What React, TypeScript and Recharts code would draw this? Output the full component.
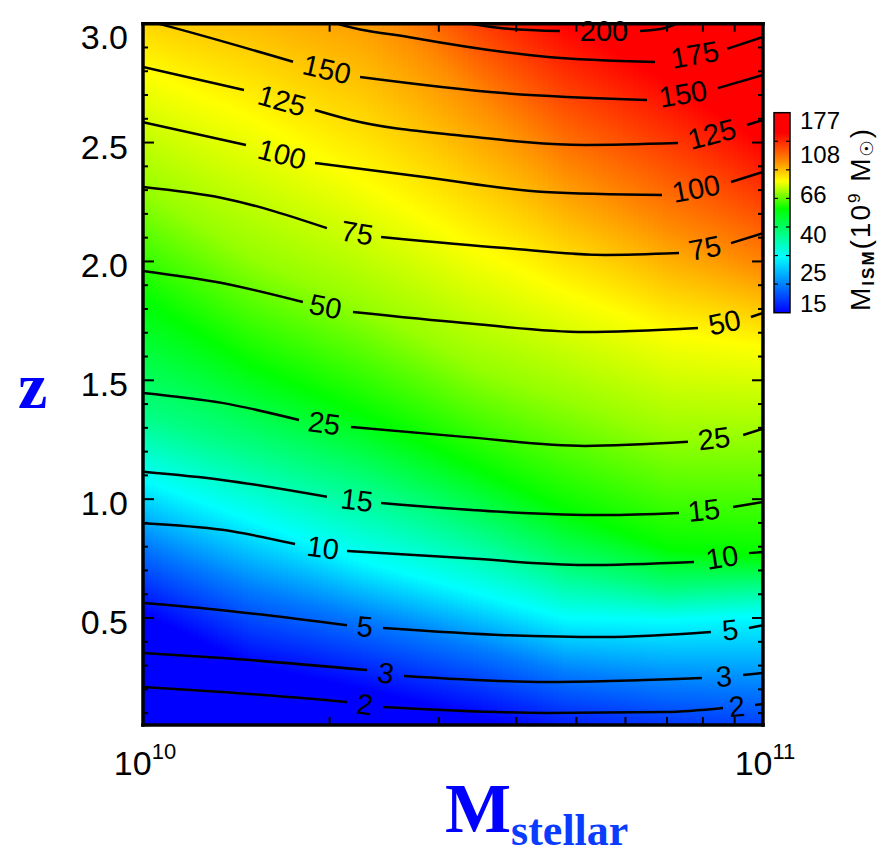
import React from "react";
import {
  ComposedChart,
  Line,
  XAxis,
  YAxis,
  ReferenceArea,
  ReferenceDot,
} from "recharts";

const W = 877;
const H = 854;
const PLOT_LEFT = 143;
const PLOT_RIGHT = 763;
const PLOT_TOP = 23.7;
const PLOT_BOTTOM = 725;
const PLOT_W = PLOT_RIGHT - PLOT_LEFT;
const PLOT_H = PLOT_BOTTOM - PLOT_TOP;
// axes get a 1px box so that Recharts draws them; margins compensate
const AXIS_BOX = 1;

const Z_MIN = 0.05;
const Z_MAX = 3.0;
const M_MIN = 1e10;
const M_MAX = 1e11;

const SANS = "'Liberation Sans', Arial, Helvetica, sans-serif";
const SERIF = "'Liberation Serif', 'Times New Roman', serif";
const TITLE_BLUE = "#0000ff";

// axis ticks
const massTicks = [1e10, 2e10, 3e10, 4e10, 5e10, 6e10, 7e10, 8e10, 9e10, 1e11];
const zTicks = Array.from({ length: 30 }, (_, i) => (i + 1) / 10);

// colour bar: M_ISM in 1e9 Msun
const cbLabels = [15, 25, 40, 66, 108, 177];
const CB_MIN = 15;
const CB_MAX = 177;
const cbMinor = [1, 2, 3, 4, 5, 6].map((k) => CB_MIN * Math.pow(CB_MAX / CB_MIN, k / 7));
const cbExtent = [{ c: 0 }, { c: 1 }];

// colour table (blue -> cyan -> green -> yellow -> orange -> red)
const cmapValues = [15, 30, 54, 76, 97, 138, 177];
const cmapColors = ["#0000ff", "#00ffff", "#00ff00", "#ffff00", "#ff8c00", "#ff0000", "#ff0000"];

// M_ISM field: redshift at which each level is reached, sampled at fieldMass
const fieldMass = [1.0e10, 1.5e10, 2.25e10, 3.4e10, 4.8e10, 7.0e10, 1.0e11];
const fieldLevels = [15, 21, 30, 40, 54, 66, 76, 97, 138];
const iso15 = [0.52, 0.3, 0.2, 0.09, -0.01, -0.08, -0.12];
const iso21 = [0.81, 0.62, 0.5, 0.38, 0.27, 0.22, 0.2];
const iso30 = [1.08, 0.91, 0.74, 0.61, 0.5, 0.49, 0.51];
const iso40 = [1.36, 1.21, 1.06, 0.87, 0.7, 0.62, 0.64];
const iso54 = [1.84, 1.56, 1.36, 1.14, 0.95, 0.79, 0.76];
const iso66 = [2.3, 2.02, 1.81, 1.56, 1.42, 1.26, 1.25];
const iso76 = [2.8, 2.6, 2.34, 2.06, 1.87, 1.7, 1.64];
const iso97 = [3.36, 3.28, 3.12, 2.7, 2.38, 2.14, 1.97];
const iso138 = [4.3, 4.0, 3.75, 3.28, 3.0, 2.76, 2.5];
const isoRows = [iso15, iso21, iso30, iso40, iso54, iso66, iso76, iso97, iso138];

// contour lines [M_stellar, z]; a null z leaves the gap for the inline label
type Pt = [number, number | null];
const contourLevels = [2, 3, 5, 10, 15, 25, 50, 75, 100, 125, 150, 175, 200];
const contour2: Pt[] = [[1.0e10, 0.21], [1.341e10, 0.189], [2.133e10, 0.147], [2.28e10, null], [2.438e10, 0.126], [4.45e10, 0.101], [6.976e10, 0.105], [8.62e10, 0.122], [9.08e10, null], [9.71e10, 0.134], [1e11, 0.138]];
const contour3: Pt[] = [[1.0e10, 0.353], [1.341e10, 0.332], [2.298e10, 0.281], [2.465e10, null], [2.636e10, 0.256], [4.45e10, 0.231], [7.971e10, 0.248], [8.65e10, null], [9.29e10, 0.26], [1e11, 0.269]];
const contour5: Pt[] = [[1.0e10, 0.563], [1.341e10, 0.533], [2.133e10, 0.47], [2.28e10, null], [2.438e10, 0.458], [3.836e10, 0.428], [5.561e10, 0.42], [8.241e10, 0.441], [8.85e10, null], [9.49e10, 0.458], [1e11, 0.47]];
const contour10: Pt[] = [[1.0e10, 0.899], [1.341e10, 0.871], [1.759e10, 0.811], [1.951e10, null], [2.133e10, 0.782], [3.295e10, 0.752], [5.163e10, 0.723], [7.738e10, 0.736], [8.59e10, null], [9.49e10, 0.773], [1e11, 0.778]];
const contour15: Pt[] = [[1.0e10, 1.115], [1.341e10, 1.081], [1.98e10, 1.01], [2.214e10, null], [2.421e10, 0.984], [3.836e10, 0.946], [5.561e10, 0.933], [7.322e10, 0.942], [8.03e10, null], [8.95e10, 0.967], [1e11, 0.988]];
const contour25: Pt[] = [[1.0e10, 1.447], [1.341e10, 1.405], [1.785e10, 1.333], [1.96e10, null], [2.165e10, 1.304], [3.295e10, 1.262], [5.163e10, 1.224], [7.568e10, 1.241], [8.34e10, null], [9.29e10, 1.27], [1e11, 1.296]];
const contour50: Pt[] = [[1.0e10, 1.96], [1.341e10, 1.909], [1.811e10, 1.829], [1.97e10, null], [2.181e10, 1.787], [3.295e10, 1.741], [5.163e10, 1.703], [7.855e10, 1.72], [8.67e10, null], [9.56e10, 1.766], [1e11, 1.783]];
const contour75: Pt[] = [[1.0e10, 2.313], [1.341e10, 2.267], [1.98e10, 2.14], [2.214e10, null], [2.421e10, 2.103], [3.836e10, 2.056], [5.561e10, 2.027], [7.322e10, 2.035], [8.06e10, null], [8.88e10, 2.077], [1e11, 2.119]];
const contour100: Pt[] = [[1.0e10, 2.586], [1.466e10, 2.49], [1.676e10, null], [1.894e10, 2.414], [2.84e10, 2.355], [4.45e10, 2.292], [6.873e10, 2.279], [7.8e10, null], [8.88e10, 2.334], [1e11, 2.376]];
const contour125: Pt[] = [[1.0e10, 2.818], [1.455e10, 2.721], [1.676e10, null], [1.894e10, 2.637], [2.165e10, 2.595], [3.295e10, 2.528], [5.163e10, 2.49], [7.295e10, 2.498], [8.27e10, null], [9.42e10, 2.574], [1e11, 2.595]];
const contour150: Pt[] = [[1.0e10, 3.017], [1.077e10, 2.995], [1.746e10, 2.84], [1.98e10, null], [2.239e10, 2.776], [3.807e10, 2.708], [6.5e10, 2.679], [7.43e10, null], [8.46e10, 2.729], [1e11, 2.784]];
const contour175: Pt[] = [[1.8e10, 3.06], [2.003e10, 3.01], [2.736e10, 2.94], [4.5e10, 2.86], [6.697e10, 2.839], [7.76e10, null], [8.75e10, 2.894], [1e11, 2.944]];
const contour200: Pt[] = [[2.8e10, 3.04], [3.766e10, 2.982], [4.706e10, 2.969], [5.54e10, null], [6.333e10, 2.969], [6.95e10, 2.982], [7.8e10, 3.04]];
const contourPaths = [contour2, contour3, contour5, contour10, contour15, contour25, contour50, contour75, contour100, contour125, contour150, contour175, contour200];

const contours = contourLevels.map((level, i) => ({
  level,
  points: contourPaths[i].map(([m, z]) => ({ m, z })),
}));

// inline labels sit in the gaps, rotated along the local line direction
const contourLabels = contours.flatMap(({ level, points }) =>
  points.flatMap((p, i) => {
    if (p.z !== null) return [];
    const a = points[i - 1];
    const b = points[i + 1];
    const la = Math.log10(a.m);
    const lb = Math.log10(b.m);
    const t = (Math.log10(p.m) - la) / (lb - la);
    const z = (a.z as number) + t * ((b.z as number) - (a.z as number));
    const dx = (lb - la) * PLOT_W;
    const dy = (-((b.z as number) - (a.z as number)) * PLOT_H) / (Z_MAX - Z_MIN);
    return [{ key: `${level}-${i}`, text: String(level), m: p.m, z, angle: (Math.atan2(dy, dx) * 180) / Math.PI }];
  })
);

const hexRgb = (h: string) => [1, 3, 5].map((k) => parseInt(h.slice(k, k + 2), 16));

function colorAt(v: number) {
  const lv = Math.log(v);
  for (let i = 0; i < cmapValues.length - 1; i++) {
    const a = Math.log(cmapValues[i]);
    const b = Math.log(cmapValues[i + 1]);
    if (lv <= b || i === cmapValues.length - 2) {
      const t = Math.min(1, Math.max(0, (lv - a) / (b - a)));
      const ca = hexRgb(cmapColors[i]);
      const cb = hexRgb(cmapColors[i + 1]);
      const c = ca.map((x, k) => Math.round(x + t * (cb[k] - x)));
      return `rgb(${c[0]},${c[1]},${c[2]})`;
    }
  }
  return cmapColors[cmapColors.length - 1];
}

const cbT = (v: number) => Math.log(v / CB_MIN) / Math.log(CB_MAX / CB_MIN);

const fieldLogM = fieldMass.map((m) => Math.log10(m));
function isoAt(row: number[], lm: number) {
  const n = fieldLogM.length;
  for (let i = 0; i < n - 1; i++) {
    if (lm <= fieldLogM[i + 1] || i === n - 2) {
      const t = (lm - fieldLogM[i]) / (fieldLogM[i + 1] - fieldLogM[i]);
      return row[i] + t * (row[i + 1] - row[i]);
    }
  }
  return row[n - 1];
}

// the colour field is painted as thin mass columns, each with its own vertical gradient
const N_COLS = 124;
const columns = Array.from({ length: N_COLS }, (_, i) => {
  const l1 = 10 + i / N_COLS;
  const l2 = 10 + (i + 1) / N_COLS;
  const lm = (l1 + l2) / 2;
  return {
    id: i,
    m1: Math.pow(10, l1),
    m2: Math.pow(10, l2),
    stops: fieldLevels.map((v, k) => ({ z: isoAt(isoRows[k], lm), color: colorAt(v) })),
  };
});

const G_LO = -1;
const G_HI = 5;

function FieldColumn(props: any) {
  const { x, y, width, height, col } = props;
  if (x == null || y == null) return null;
  const pxPerZ = height / (Z_MAX - Z_MIN);
  const yLo = y + (Z_MAX - G_LO) * pxPerZ;
  const yHi = y + (Z_MAX - G_HI) * pxPerZ;
  const gid = `field-col-${col.id}`;
  return (
    <g>
      <defs>
        <linearGradient id={gid} gradientUnits="userSpaceOnUse" x1={0} y1={yLo} x2={0} y2={yHi}>
          {col.stops.map((s: any, k: number) => (
            <stop key={k} offset={(s.z - G_LO) / (G_HI - G_LO)} stopColor={s.color} />
          ))}
        </linearGradient>
      </defs>
      <rect x={x} y={y} width={width + 0.8} height={height} fill={`url(#${gid})`} />
    </g>
  );
}

const isDecade = (v: number) => Math.abs(Math.log10(v) - Math.round(Math.log10(v))) < 1e-9;
const isHalf = (v: number) => Math.abs(v * 2 - Math.round(v * 2)) < 1e-6;

function MassTick({ x, y, payload, side }: any) {
  const v = payload.value;
  const major = isDecade(v);
  const len = major ? 11 : 8;
  const dir = side === "bottom" ? -1 : 1;
  return (
    <g>
      <line x1={x} y1={y} x2={x} y2={y + dir * len} stroke="#000" strokeWidth={2} />
      {side === "bottom" && major && (
        <text x={x + 2} y={y + 50} textAnchor="middle" fontSize={34} fontFamily={SANS} fill="#000">
          10
          <tspan dy={-16} fontSize={22}>
            {Math.round(Math.log10(v))}
          </tspan>
        </text>
      )}
    </g>
  );
}

function RedshiftTick({ x, y, payload, side }: any) {
  const v = payload.value;
  const major = isHalf(v);
  const len = major ? 11 : 5;
  const dir = side === "left" ? 1 : -1;
  const atTop = Math.abs(v - Z_MAX) < 1e-6;
  return (
    <g>
      <line x1={x} y1={y} x2={x + dir * len} y2={y} stroke="#000" strokeWidth={2} />
      {side === "left" && major && (
        <text x={x - 15} y={y + (atTop ? 25 : 16)} textAnchor="end" fontSize={34} fontFamily={SANS} fill="#000">
          {v.toFixed(1)}
        </text>
      )}
    </g>
  );
}

function ColorbarTick({ x, y, payload, side }: any) {
  const v = payload.value;
  const labelled = cbLabels.includes(v);
  if (!labelled) {
    const dir = side === "left" ? 1 : -1;
    return <line x1={x} y1={y} x2={x + dir * 4} y2={y} stroke="#000" strokeWidth={1.2} />;
  }
  if (side !== "right") return <g />;
  let dy = 10;
  if (v === CB_MAX) dy = 16;
  if (v === CB_MIN) dy = -1;
  return (
    <text x={x + 10} y={y + dy} fontSize={24} fontFamily={SANS} fill="#000">
      {v}
    </text>
  );
}

function ColorbarRect(props: any) {
  const { x, y, width, height } = props;
  if (x == null || y == null) return null;
  return (
    <g>
      <defs>
        <linearGradient id="cbar-grad" x1={0} y1={1} x2={0} y2={0}>
          {cmapValues.map((v, i) => (
            <stop key={i} offset={cbT(v)} stopColor={cmapColors[i]} />
          ))}
        </linearGradient>
      </defs>
      <rect x={x} y={y} width={width} height={height} fill="url(#cbar-grad)" stroke="#000" strokeWidth={1.5} />
    </g>
  );
}

const frameLine = { stroke: "#000", strokeWidth: 3.5, strokeLinecap: "square" as const };

function Colorbar() {
  return (
    <div style={{ position: "absolute", left: 760, top: 100 }}>
      <ComposedChart
        width={117}
        height={230}
        data={cbExtent}
        margin={{ top: 12.7, right: 87 - AXIS_BOX, bottom: 17.3, left: 14 - AXIS_BOX }}
      >
        <XAxis xAxisId="cb" dataKey="c" type="number" domain={[0, 1]} hide />
        <ReferenceArea
          xAxisId="cb"
          yAxisId="cbl"
          x1={0}
          x2={1}
          y1={CB_MIN}
          y2={CB_MAX}
          ifOverflow="visible"
          shape={(p: any) => <ColorbarRect {...p} />}
        />
        <YAxis
          yAxisId="cbl"
          type="number"
          scale="log"
          domain={[CB_MIN, CB_MAX]}
          allowDataOverflow
          ticks={cbMinor}
          interval={0}
          width={AXIS_BOX}
          tickSize={0}
          tickMargin={0}
          tickLine={false}
          axisLine={false}
          tick={(p: any) => <ColorbarTick {...p} side="left" />}
        />
        <YAxis
          yAxisId="cbr"
          orientation="right"
          type="number"
          scale="log"
          domain={[CB_MIN, CB_MAX]}
          allowDataOverflow
          ticks={[...cbLabels, ...cbMinor]}
          interval={0}
          width={AXIS_BOX}
          tickSize={0}
          tickMargin={0}
          tickLine={false}
          axisLine={false}
          tick={(p: any) => <ColorbarTick {...p} side="right" />}
        />
      </ComposedChart>
    </div>
  );
}

function Titles() {
  return (
    <svg
      width={W}
      height={H}
      style={{ position: "absolute", left: 0, top: 0, pointerEvents: "none" }}
    >
      <text x={18} y={408} fontFamily={SERIF} fontWeight="bold" fontSize={66} fill={TITLE_BLUE}>
        z
      </text>
      <text x={445} y={832} fontFamily={SERIF} fontWeight="bold" fontSize={70} fill={TITLE_BLUE}>
        M
        <tspan fontSize={44} dy={13} fill="#0a3cff">
          stellar
        </tspan>
      </text>
      <text
        x={0}
        y={0}
        transform="translate(870 220) rotate(-90)"
        textAnchor="middle"
        fontFamily={SANS}
        fontSize={28}
        fill="#000"
        textLength={182}
        lengthAdjust="spacing"
      >
        M
        <tspan fontSize={17} fontWeight="bold" dy={4}>
          ISM
        </tspan>
        <tspan dy={-4}>(10</tspan>
        <tspan fontSize={17} dy={-10}>
          9
        </tspan>
        <tspan dy={10}> M</tspan>
        <tspan fontSize={18} dy={3} fontFamily="'DejaVu Sans', sans-serif">
          ☉
        </tspan>
        <tspan dy={-3}>)</tspan>
      </text>
    </svg>
  );
}

export default function App() {
  return (
    <div style={{ position: "absolute", left: 0, top: 0, width: W, height: H, background: "#fff" }}>
      <ComposedChart
        width={W}
        height={H}
        margin={{
          top: PLOT_TOP - AXIS_BOX,
          right: W - PLOT_RIGHT - AXIS_BOX,
          bottom: H - PLOT_BOTTOM - AXIS_BOX,
          left: PLOT_LEFT - AXIS_BOX,
        }}
      >
        {columns.map((col) => (
          <ReferenceArea
            key={col.id}
            xAxisId="b"
            yAxisId="l"
            x1={col.m1}
            x2={col.m2}
            y1={Z_MIN}
            y2={Z_MAX}
            shape={(p: any) => <FieldColumn {...p} col={col} />}
          />
        ))}

        {contours.map((c) => (
          <Line
            key={c.level}
            data={c.points}
            dataKey="z"
            xAxisId="b"
            yAxisId="l"
            type="monotoneX"
            stroke="#000"
            strokeWidth={2.5}
            dot={false}
            activeDot={false}
            connectNulls={false}
            isAnimationActive={false}
          />
        ))}

        {contourLabels.map((lab) => (
          <ReferenceDot
            key={lab.key}
            xAxisId="b"
            yAxisId="l"
            x={lab.m}
            y={lab.z}
            r={0}
            shape={(p: any) => (
              <text
                x={p.cx}
                y={p.cy}
                dy={10}
                transform={`rotate(${lab.angle.toFixed(1)} ${p.cx} ${p.cy})`}
                textAnchor="middle"
                fontSize={29}
                fontFamily={SANS}
                fill="#000"
              >
                {lab.text}
              </text>
            )}
          />
        ))}

        <XAxis
          xAxisId="b"
          dataKey="m"
          type="number"
          scale="log"
          domain={[M_MIN, M_MAX]}
          allowDataOverflow
          ticks={massTicks}
          interval={0}
          height={AXIS_BOX}
          tickSize={0}
          tickMargin={0}
          tickLine={false}
          axisLine={frameLine}
          tick={(p: any) => <MassTick {...p} side="bottom" />}
        />
        <XAxis
          xAxisId="t"
          orientation="top"
          dataKey="m"
          type="number"
          scale="log"
          domain={[M_MIN, M_MAX]}
          allowDataOverflow
          ticks={massTicks}
          interval={0}
          height={AXIS_BOX}
          tickSize={0}
          tickMargin={0}
          tickLine={false}
          axisLine={frameLine}
          tick={(p: any) => <MassTick {...p} side="top" />}
        />
        <YAxis
          yAxisId="l"
          type="number"
          domain={[Z_MIN, Z_MAX]}
          allowDataOverflow
          ticks={zTicks}
          interval={0}
          width={AXIS_BOX}
          tickSize={0}
          tickMargin={0}
          tickLine={false}
          axisLine={frameLine}
          tick={(p: any) => <RedshiftTick {...p} side="left" />}
        />
        <YAxis
          yAxisId="r"
          orientation="right"
          type="number"
          domain={[Z_MIN, Z_MAX]}
          allowDataOverflow
          ticks={zTicks}
          interval={0}
          width={AXIS_BOX}
          tickSize={0}
          tickMargin={0}
          tickLine={false}
          axisLine={frameLine}
          tick={(p: any) => <RedshiftTick {...p} side="right" />}
        />
      </ComposedChart>
      <Colorbar />
      <Titles />
    </div>
  );
}
